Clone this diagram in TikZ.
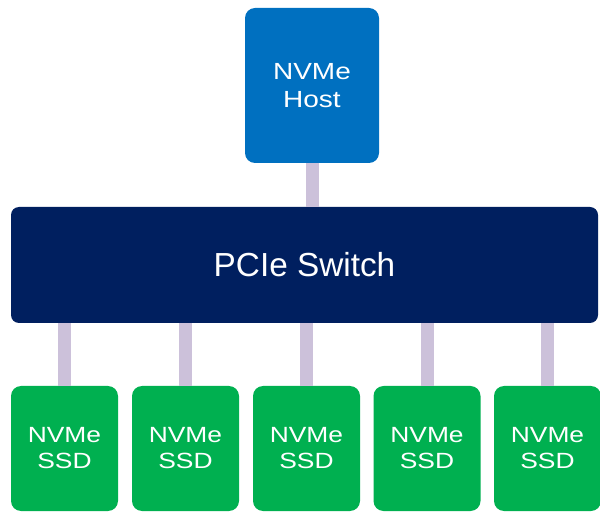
\documentclass[tikz,border=0pt]{standalone}
\usepackage{fontspec}
\setmainfont{Liberation Sans}
\newfontfamily\boxfont[FakeStretch=1.2]{Liberation Sans}
\usetikzlibrary{positioning}

\definecolor{hostblue}{HTML}{0070C0}
\definecolor{switchnavy}{HTML}{001F5F}
\definecolor{ssdgreen}{HTML}{00B050}
\definecolor{linklilac}{HTML}{CCC1DA}

\tikzset{
  unit/.style={draw=none,text=white,align=center,inner sep=0pt,outer sep=0pt,rounded corners=10*0.75pt},
  link/.style={draw=linklilac,line width=13*0.75pt},
}

\begin{document}
\begin{tikzpicture}[x=0.75pt,y=-0.75pt]
\def\px{0.75pt}
\def\sw{107*\px}
\def\sh{125*\px}
\def\sy{448.5}

\useasboundingbox (0,0) rectangle (600,513);

\node[unit,fill=hostblue,minimum width=134*\px,minimum height=155*\px,font=\boxfont\fontsize{17.5}{20.5}\selectfont] (host) at (312,85.5) {NVMe\\Host};

\node[unit,fill=switchnavy,minimum width=587*\px,minimum height=116*\px,rounded corners=8*\px,font=\fontsize{25}{30}\selectfont] (switch) at (304.5,265) {PCIe Switch};

% SSDs
\node[unit,fill=ssdgreen,minimum width=\sw,minimum height=\sh,font=\boxfont\fontsize{16.5}{19.5}\selectfont] (ssdA) at (64.5,\sy) {NVMe\\SSD};
\node[unit,fill=ssdgreen,minimum width=\sw,minimum height=\sh,font=\boxfont\fontsize{16.5}{19.5}\selectfont] (ssdB) at (185.5,\sy) {NVMe\\SSD};
\node[unit,fill=ssdgreen,minimum width=\sw,minimum height=\sh,font=\boxfont\fontsize{16.5}{19.5}\selectfont] (ssdC) at (306.5,\sy) {NVMe\\SSD};
\node[unit,fill=ssdgreen,minimum width=\sw,minimum height=\sh,font=\boxfont\fontsize{16.5}{19.5}\selectfont] (ssdD) at (427,\sy) {NVMe\\SSD};
\node[unit,fill=ssdgreen,minimum width=\sw,minimum height=\sh,font=\boxfont\fontsize{16.5}{19.5}\selectfont] (ssdE) at (547.5,\sy) {NVMe\\SSD};

% links
\draw[link] (host.south) -- (host.south |- switch.north);
\draw[link] (ssdA.north) -- (ssdA.north |- switch.south);
\draw[link] (ssdB.north) -- (ssdB.north |- switch.south);
\draw[link] (ssdC.north) -- (ssdC.north |- switch.south);
\draw[link] (ssdD.north) -- (ssdD.north |- switch.south);
\draw[link] (ssdE.north) -- (ssdE.north |- switch.south);

\end{tikzpicture}
\end{document}
